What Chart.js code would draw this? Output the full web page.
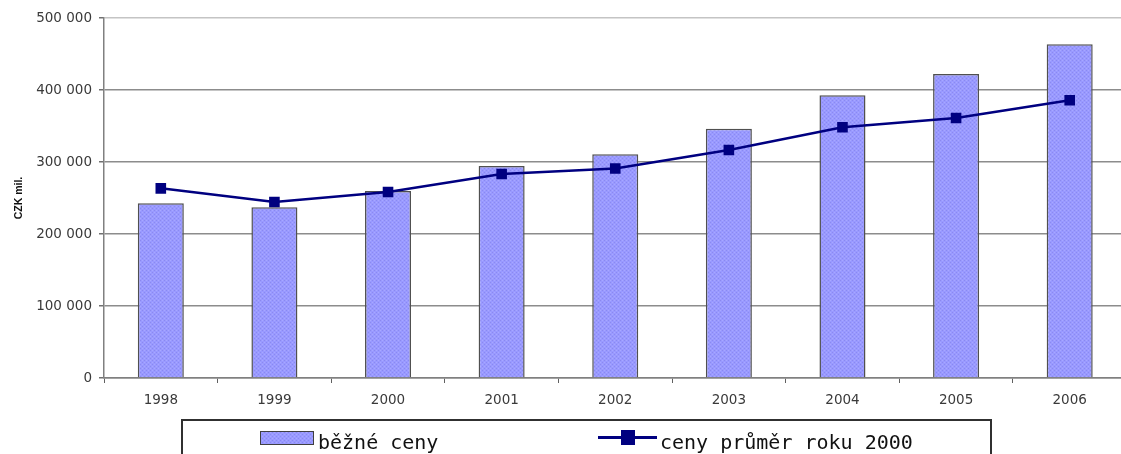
<!DOCTYPE html>
<html>
<head>
<meta charset="utf-8">
<script src="https://cdn.jsdelivr.net/npm/chart.js@4.4.1/dist/chart.umd.min.js"></script>
<style>
  html, body { margin: 0; padding: 0; background: #ffffff; overflow: hidden; }
  #wrap { width: 1121px; height: 454px; overflow: hidden; position: relative; }
  canvas { display: block; }
</style>
</head>
<body>
<div id="wrap"><canvas id="c" width="1134" height="454"></canvas></div>
<script>
// ---- data ----
const categories = ['1998', '1999', '2000', '2001', '2002', '2003', '2004', '2005', '2006'];
const currentPrices = [242600, 237000, 259700, 294400, 310900, 346300, 392600, 422200, 463400];
const constantPrices2000 = [263400, 244400, 258300, 283300, 291000, 316700, 348200, 361100, 385700];
const seriesNames = ['běžné ceny', 'ceny průměr roku 2000'];
const yTickLabels = ['0', '100 000', '200 000', '300 000', '400 000', '500 000'];
const yAxisTitle = 'CZK mil.';

// ---- stipple pattern for bars ----
function makePattern() {
  const pc = document.createElement('canvas');
  pc.width = 4; pc.height = 4;
  const p = pc.getContext('2d');
  p.fillStyle = '#9999ff'; p.fillRect(0, 0, 4, 4);
  p.fillStyle = '#8a8af0'; p.fillRect(0, 0, 1, 1); p.fillRect(2, 2, 1, 1);
  p.fillStyle = '#a8a8ff'; p.fillRect(2, 0, 1, 1); p.fillRect(0, 2, 1, 1);
  return document.getElementById('c').getContext('2d').createPattern(pc, 'repeat');
}
const barFill = makePattern();

const legendPlugin = {
  id: 'boxLegend',
  afterDraw(chart) {
    const ctx = chart.ctx;
    ctx.save();
    // frame
    ctx.strokeStyle = '#303030';
    ctx.lineWidth = 2;
    ctx.strokeRect(182, 420, 809, 60);
    // bar swatch
    ctx.fillStyle = barFill;
    ctx.fillRect(260, 431, 54, 14);
    ctx.strokeStyle = '#404040';
    ctx.lineWidth = 1;
    ctx.strokeRect(260.5, 431.5, 53, 13);
    // line swatch
    ctx.strokeStyle = '#000080';
    ctx.lineWidth = 3;
    ctx.beginPath(); ctx.moveTo(598, 437.5); ctx.lineTo(657, 437.5); ctx.stroke();
    ctx.fillStyle = '#000080';
    ctx.fillRect(621, 430, 14, 15);
    // texts
    ctx.fillStyle = '#111111';
    ctx.font = '20px "DejaVu Sans Mono", monospace';
    ctx.textBaseline = 'alphabetic';
    ctx.textAlign = 'left';
    ctx.fillText(seriesNames[0], 318, 449);
    ctx.fillText(seriesNames[1], 660, 449);
    ctx.restore();
  }
};

new Chart(document.getElementById('c'), {
  type: 'bar',
  data: {
    labels: categories,
    datasets: [
      {
        type: 'line',
        label: seriesNames[1],
        data: constantPrices2000,
        borderColor: '#000080',
        backgroundColor: '#000080',
        borderWidth: 2.5,
        pointStyle: 'rect',
        pointRadius: 7.5,
        pointBorderWidth: 0,
        pointBackgroundColor: '#000080',
        tension: 0,
        order: 0
      },
      {
        type: 'bar',
        label: seriesNames[0],
        data: currentPrices,
        backgroundColor: barFill,
        borderColor: '#505050',
        borderWidth: 1.5,
        inflateAmount: 0,
        barPercentage: 0.405,
        categoryPercentage: 1,
        order: 1
      }
    ]
  },
  options: {
    responsive: false,
    animation: false,
    devicePixelRatio: 1,
    layout: { padding: { top: 18, left: 0, right: 0, bottom: 46 } },
    plugins: {
      legend: { display: false },
      tooltip: { enabled: false }
    },
    scales: {
      x: {
        offset: true,
        grid: {
          display: true,
          drawOnChartArea: false,
          drawTicks: true,
          tickLength: 5,
          tickColor: '#606060',
          offset: true
        },
        border: { color: '#808080', width: 1.5 },
        ticks: {
          color: '#3a3a3a',
          padding: 9,
          font: { family: '"DejaVu Sans", sans-serif', size: 13.5 },
          maxRotation: 0
        },
        afterFit(scale) { scale.height = 30; }
      },
      y: {
        min: 0,
        max: 500000,
        ticks: {
          stepSize: 100000,
          color: '#3a3a3a',
          padding: 7,
          font: { family: '"DejaVu Sans", sans-serif', size: 13.5 },
          callback: (v, i) => yTickLabels[i]
        },
        grid: {
          color: (c) => (c.tick && c.tick.value === 500000) ? '#c4c4c4' : '#8c8c8c',
          lineWidth: 1.5,
          tickLength: 5,
          tickColor: '#707070'
        },
        border: { color: '#808080', width: 1.5 },
        title: {
          display: true,
          text: yAxisTitle,
          color: '#111111',
          font: { family: '"Liberation Sans", Arial, sans-serif', size: 10.5, weight: 'bold' },
          padding: { top: 13, bottom: 0 }
        },
        afterFit(scale) { scale.width = 104; }
      }
    }
  },
  plugins: [legendPlugin]
});
</script>
</body>
</html>
